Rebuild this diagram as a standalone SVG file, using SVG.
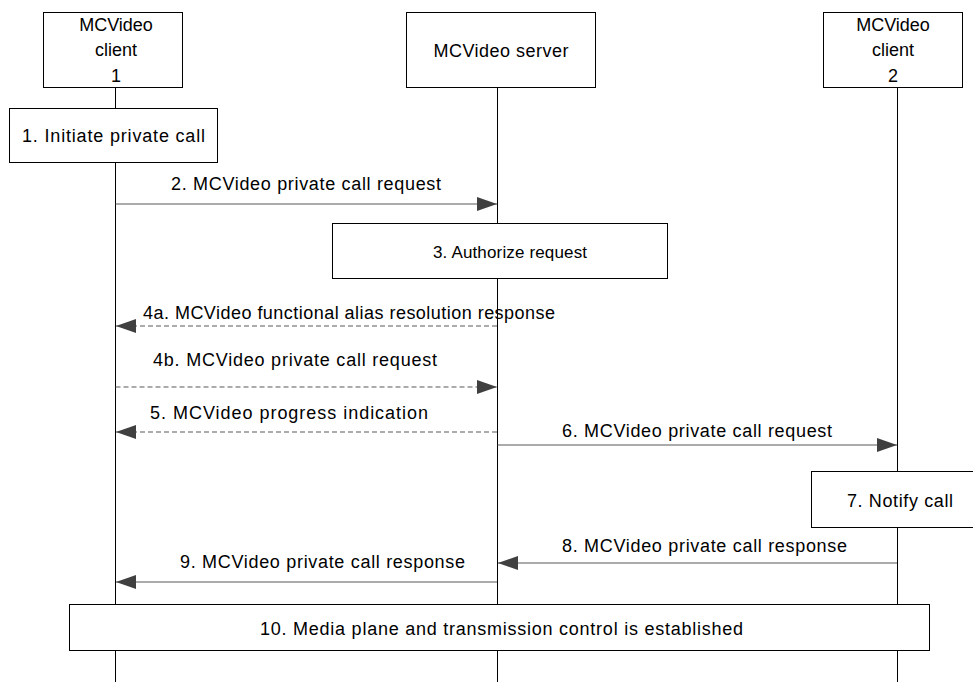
<svg xmlns="http://www.w3.org/2000/svg" width="973" height="682" viewBox="0 0 973 682">
<style>
  .box { fill: #ffffff; stroke: #000000; stroke-width: 1; }
  .life { stroke: #000000; stroke-width: 1; fill: none; }
  .msg { stroke: #595959; stroke-width: 1.2; fill: none; }
  .dash { stroke-dasharray: 5 3; }
  text { font-family: "Liberation Sans", Arial, sans-serif; font-size: 18px; fill: #000000; }
  .c { text-anchor: middle; }
  .s17 { font-size: 17px; }
</style>
<defs>
  <marker id="ah" markerUnits="userSpaceOnUse" markerWidth="22" markerHeight="16" refX="20" refY="7" orient="auto">
    <path d="M0,0 L20,7 L0,14 Z" fill="#404040"/>
  </marker>
</defs>
<rect width="973" height="682" fill="#ffffff"/>
<g id="lifelines">
  <line class="life" x1="115.5" y1="88" x2="115.5" y2="682"/>
  <line class="life" x1="497.5" y1="88" x2="497.5" y2="682"/>
  <line class="life" x1="897.5" y1="88" x2="897.5" y2="682"/>
</g>
<g id="client1">
  <rect class="box" x="43.5" y="12.5" width="139" height="75"/>
  <text class="c" x="116" y="31">MCVideo</text>
  <text class="c" x="116" y="56">client</text>
  <text class="c" x="116" y="82">1</text>
</g>
<g id="server">
  <rect class="box" x="406.5" y="12.5" width="189" height="75"/>
  <text class="c" x="501" y="57" textLength="135" lengthAdjust="spacing">MCVideo server</text>
</g>
<g id="client2">
  <rect class="box" x="823.5" y="12.5" width="139" height="75"/>
  <text class="c" x="893" y="31">MCVideo</text>
  <text class="c" x="893" y="56">client</text>
  <text class="c" x="893" y="82">2</text>
</g>
<g id="step1">
  <rect class="box" x="9.5" y="108.5" width="208" height="54"/>
  <text class="c" x="113.5" y="142" textLength="183" lengthAdjust="spacing">1. Initiate private call</text>
</g>
<g id="step3">
  <rect class="box" x="332.5" y="223.5" width="335" height="55"/>
  <text class="c s17" x="510" y="258" textLength="154" lengthAdjust="spacing">3. Authorize request</text>
</g>
<g id="step7">
  <rect class="box" x="811.5" y="471.5" width="170" height="56"/>
  <text class="c" x="900" y="507" textLength="106" lengthAdjust="spacing">7. Notify call</text>
</g>
<g id="step10">
  <rect class="box" x="69.5" y="604.5" width="860" height="46"/>
  <text class="c" x="501.5" y="635" textLength="483" lengthAdjust="spacing">10. Media plane and transmission control is established</text>
</g>
<g id="connectors">
  <line class="msg" x1="115.5" y1="204" x2="497" y2="204" marker-end="url(#ah)"/>
  <text class="c" x="306" y="190" textLength="270" lengthAdjust="spacing">2. MCVideo private call request</text>

  <line class="msg dash" x1="497" y1="326" x2="116" y2="326" marker-end="url(#ah)"/>
  <text class="c" x="349" y="319" textLength="412" lengthAdjust="spacing">4a. MCVideo functional alias resolution response</text>

  <line class="msg dash" x1="115.5" y1="387" x2="497" y2="387" marker-end="url(#ah)"/>
  <text class="c" x="295" y="366" textLength="284" lengthAdjust="spacing">4b. MCVideo private call request</text>

  <line class="msg dash" x1="497" y1="432" x2="116" y2="432" marker-end="url(#ah)"/>
  <text class="c" x="289" y="419" textLength="278" lengthAdjust="spacing">5. MCVideo progress indication</text>

  <line class="msg" x1="497.5" y1="445" x2="897" y2="445" marker-end="url(#ah)"/>
  <text class="c" x="697" y="437" textLength="270" lengthAdjust="spacing">6. MCVideo private call request</text>

  <line class="msg" x1="897" y1="563" x2="498" y2="563" marker-end="url(#ah)"/>
  <text class="c" x="704.5" y="552" textLength="285" lengthAdjust="spacing">8. MCVideo private call response</text>

  <line class="msg" x1="497" y1="582" x2="116" y2="582" marker-end="url(#ah)"/>
  <text class="c" x="322.5" y="568" textLength="285" lengthAdjust="spacing">9. MCVideo private call response</text>
</g>
</svg>
